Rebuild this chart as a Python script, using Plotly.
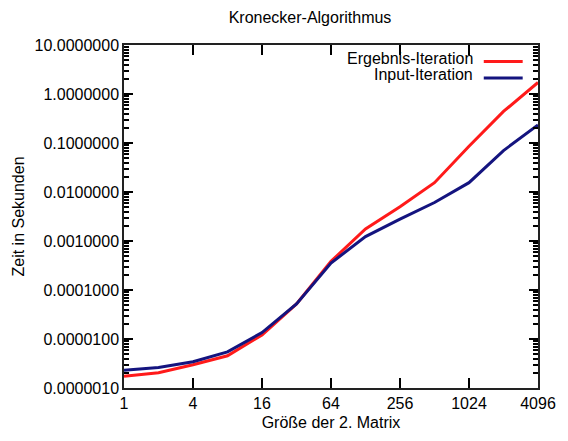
import plotly.graph_objects as go

sizes = [1, 2, 4, 8, 16, 32, 64, 128, 256, 512, 1024, 2048, 4096]
ergebnis = [1.73e-6, 2.05e-6, 2.98e-6, 4.54e-6, 1.21e-5, 5.2e-5, 3.84e-4, 1.76e-3, 5.0e-3, 1.55e-2, 8.6e-2, 0.44, 1.72]
input_it = [2.3e-6, 2.63e-6, 3.43e-6, 5.47e-6, 1.35e-5, 5.2e-5, 3.55e-4, 1.23e-3, 2.8e-3, 6.1e-3, 1.55e-2, 7.0e-2, 0.234]
x_ticks = [1, 4, 16, 64, 256, 1024, 4096]
y_ticks = [1e-6, 1e-5, 1e-4, 1e-3, 1e-2, 1e-1, 1, 10]
series_names = ["Ergebnis-Iteration", "Input-Iteration"]
colors = ["#ff1a1a", "#14147f"]

y_minor = [m * 10.0 ** e for e in range(-6, 1) for m in range(2, 10)]

FONT = "Liberation Sans, Arial, sans-serif"

fig = go.Figure()
# invisible helper trace that carries the minor-tick overlay axis
fig.add_trace(go.Scatter(x=sizes, y=ergebnis, mode="lines", yaxis="y2",
                         opacity=0, showlegend=False, hoverinfo="skip"))
for name, ys, c in zip(series_names, [ergebnis, input_it], colors):
    fig.add_trace(go.Scatter(x=sizes, y=ys, mode="lines", name=name,
                             line=dict(color=c, width=3), showlegend=False))

# legend (text right-aligned, sample line on the right)
leg_text_y = [0.9595, 0.913]
leg_line_y = [0.952, 0.904]
for name, c, ty, ly in zip(series_names, colors, leg_text_y, leg_line_y):
    fig.add_annotation(x=0.849, y=ty, xref="paper", yref="paper", text=name,
                       showarrow=False, xanchor="right", yanchor="middle",
                       font=dict(family=FONT, size=16, color="black"))
    fig.add_shape(type="line", xref="paper", yref="paper",
                  x0=0.869, x1=0.963, y0=ly, y1=ly,
                  line=dict(color=c, width=3))

fig.update_layout(
    width=568, height=441,
    margin=dict(l=124, r=19, t=45, b=50),
    paper_bgcolor="white", plot_bgcolor="white",
    font=dict(family=FONT, size=16, color="black"),
    showlegend=False,
    title=dict(text="Kronecker-Algorithmus", x=310 / 568, xanchor="center",
               y=1 - 17 / 441, yanchor="middle", xref="container", yref="container",
               font=dict(family=FONT, size=16)),
    xaxis=dict(
        type="log", range=[0, 3.6124], tickvals=x_ticks,
        ticktext=[str(v) for v in x_ticks],
        ticks="inside", ticklen=10, tickcolor="black", tickwidth=2,
        showline=True, linecolor="#222222", linewidth=1.5, mirror="ticks",
        gridcolor="white",
        title=dict(text="Größe der 2. Matrix", standoff=6, font=dict(size=16)),
        tickfont=dict(size=16),
    ),
    yaxis=dict(
        type="log", range=[-6, 1], tickvals=y_ticks, tickformat=".7f",
        ticks="inside", ticklen=9, tickcolor="black", tickwidth=2,
        showline=True, linecolor="#222222", linewidth=1.5, mirror="ticks",
        gridcolor="white",
        title=dict(text="Zeit in Sekunden", standoff=6, font=dict(size=16)),
        tickfont=dict(size=16),
    ),
    yaxis2=dict(
        type="log", range=[-6, 1], overlaying="y", side="left",
        tickvals=y_minor, showticklabels=False,
        ticks="inside", ticklen=5, tickcolor="black", tickwidth=1.5,
        mirror="ticks", gridcolor="white",
    ),
)

fig.write_html("out.html")
